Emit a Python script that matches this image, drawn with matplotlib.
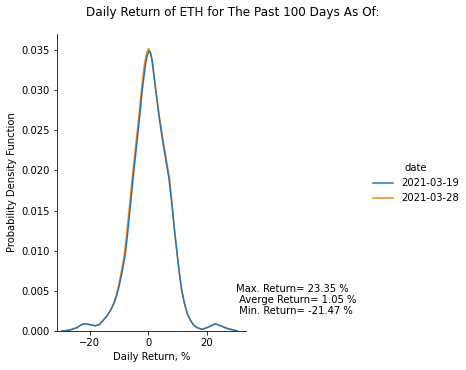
import numpy as np
import matplotlib
matplotlib.use("Agg")
import matplotlib.pyplot as plt

# -----------------------
# KDE curves (daily return %, density)
# -----------------------
dates = ["2021-03-19", "2021-03-28"]

ret_0319 = [-29.5, -27.0, -24.5, -22.8, -21.5, -20.0, -18.1, -16.8, -15.5, -14.1,
            -12.9, -11.8, -10.9, -10.0, -9.0, -8.0, -7.2, -6.4, -5.4, -4.6,
            -3.8, -2.9, -2.1, -1.5, -1.0, -0.4, 0.2, 0.8, 1.3, 1.9, 2.5, 3.6,
            4.7, 5.9, 7.0, 8.0, 9.0, 9.9, 10.6, 11.3, 12.2, 13.3, 14.4, 15.5,
            16.7, 18.4, 20.5, 22.8, 25.0, 27.0, 30.4]
pdf_0319 = [0.0, 0.0001, 0.0004, 0.0008, 0.0009, 0.0008, 0.00065, 0.0008, 0.0013,
            0.0019, 0.0026, 0.0034, 0.0043, 0.0056, 0.0073, 0.0093, 0.0118,
            0.0147, 0.0184, 0.0212, 0.0239, 0.0270, 0.0300, 0.0318, 0.0332,
            0.0343, 0.0349, 0.0346, 0.0336, 0.0319, 0.0300, 0.0268, 0.0240,
            0.0214, 0.0190, 0.0158, 0.0122, 0.0093, 0.0071, 0.0052, 0.0036,
            0.0021, 0.0013, 0.0007, 0.0004, 0.0002, 0.0005, 0.0009, 0.0006,
            0.0003, 0.0]

ret_0328 = [-29.5, -27.0, -24.5, -22.8, -21.5, -20.0, -18.1, -16.8, -15.5, -14.1,
            -12.9, -11.9, -11.1, -10.2, -9.3, -8.3, -7.5, -6.7, -5.7, -4.9,
            -4.1, -3.2, -2.4, -1.8, -1.3, -0.6, 0.0, 0.6, 1.2, 1.8, 2.5, 3.7,
            4.9, 6.1, 7.2, 8.1, 9.0, 9.9, 10.6, 11.3, 12.2, 13.3, 14.4, 15.5,
            16.7, 18.4, 20.5, 22.8, 25.0, 27.0, 30.4]
pdf_0328 = [0.0, 0.0001, 0.0004, 0.0008, 0.0009, 0.0008, 0.00065, 0.0008, 0.0013,
            0.0019, 0.0026, 0.0034, 0.0043, 0.0056, 0.0073, 0.0093, 0.0118,
            0.0147, 0.0184, 0.0212, 0.0239, 0.0270, 0.0300, 0.0319, 0.0334,
            0.0346, 0.0352, 0.0348, 0.0338, 0.0320, 0.0300, 0.0268, 0.0240,
            0.0214, 0.0190, 0.0158, 0.0122, 0.0093, 0.0071, 0.0052, 0.0036,
            0.0021, 0.0013, 0.0007, 0.0004, 0.0002, 0.0005, 0.0009, 0.0006,
            0.0003, 0.0]

max_ret, avg_ret, min_ret = 23.35, 1.05, -21.47

# -----------------------
# Figure
# -----------------------
W, H = 466, 370
fig = plt.figure(figsize=(W / 72, H / 72), dpi=72)
ax = fig.add_axes([57 / W, 1 - 331 / H, 189 / W, 297 / H])

l2, = ax.plot(ret_0328, pdf_0328, color="#ff7f0e", lw=1.5, label=dates[1])
l1, = ax.plot(ret_0319, pdf_0319, color="#1f77b4", lw=1.5, label=dates[0])

ax.set_xlim(-31.2, 33.3)
ax.set_ylim(0, 0.0370)
ax.set_xticks([-20, 0, 20])
ax.set_yticks(np.arange(0, 0.0351, 0.005))
ax.yaxis.set_major_formatter(matplotlib.ticker.FormatStrFormatter("%.3f"))
ax.spines["top"].set_visible(False)
ax.spines["right"].set_visible(False)
ax.tick_params(labelsize=10)
ax.set_xlabel("Daily Return, %", fontsize=10)
ax.set_ylabel("Probability Density Function", fontsize=10)

fig.suptitle("Daily Return of ETH for The Past 100 Days As Of:", fontsize=12,
             x=0.5, y=1 - 6 / H, va="top")

fig.text(236 / W, 1 - 284 / H,
         f"Max. Return= {max_ret} %\n Averge Return= {avg_ret} %\n Min. Return= {min_ret} %",
         fontsize=10, va="top", ha="left", linespacing=1.15)

leg = fig.legend(handles=[l1, l2], title="date", frameon=False, fontsize=10,
                 title_fontsize=10, loc="center left",
                 bbox_to_anchor=(364 / W, 1 - 183 / H))

fig.savefig("out.png", dpi=72)
